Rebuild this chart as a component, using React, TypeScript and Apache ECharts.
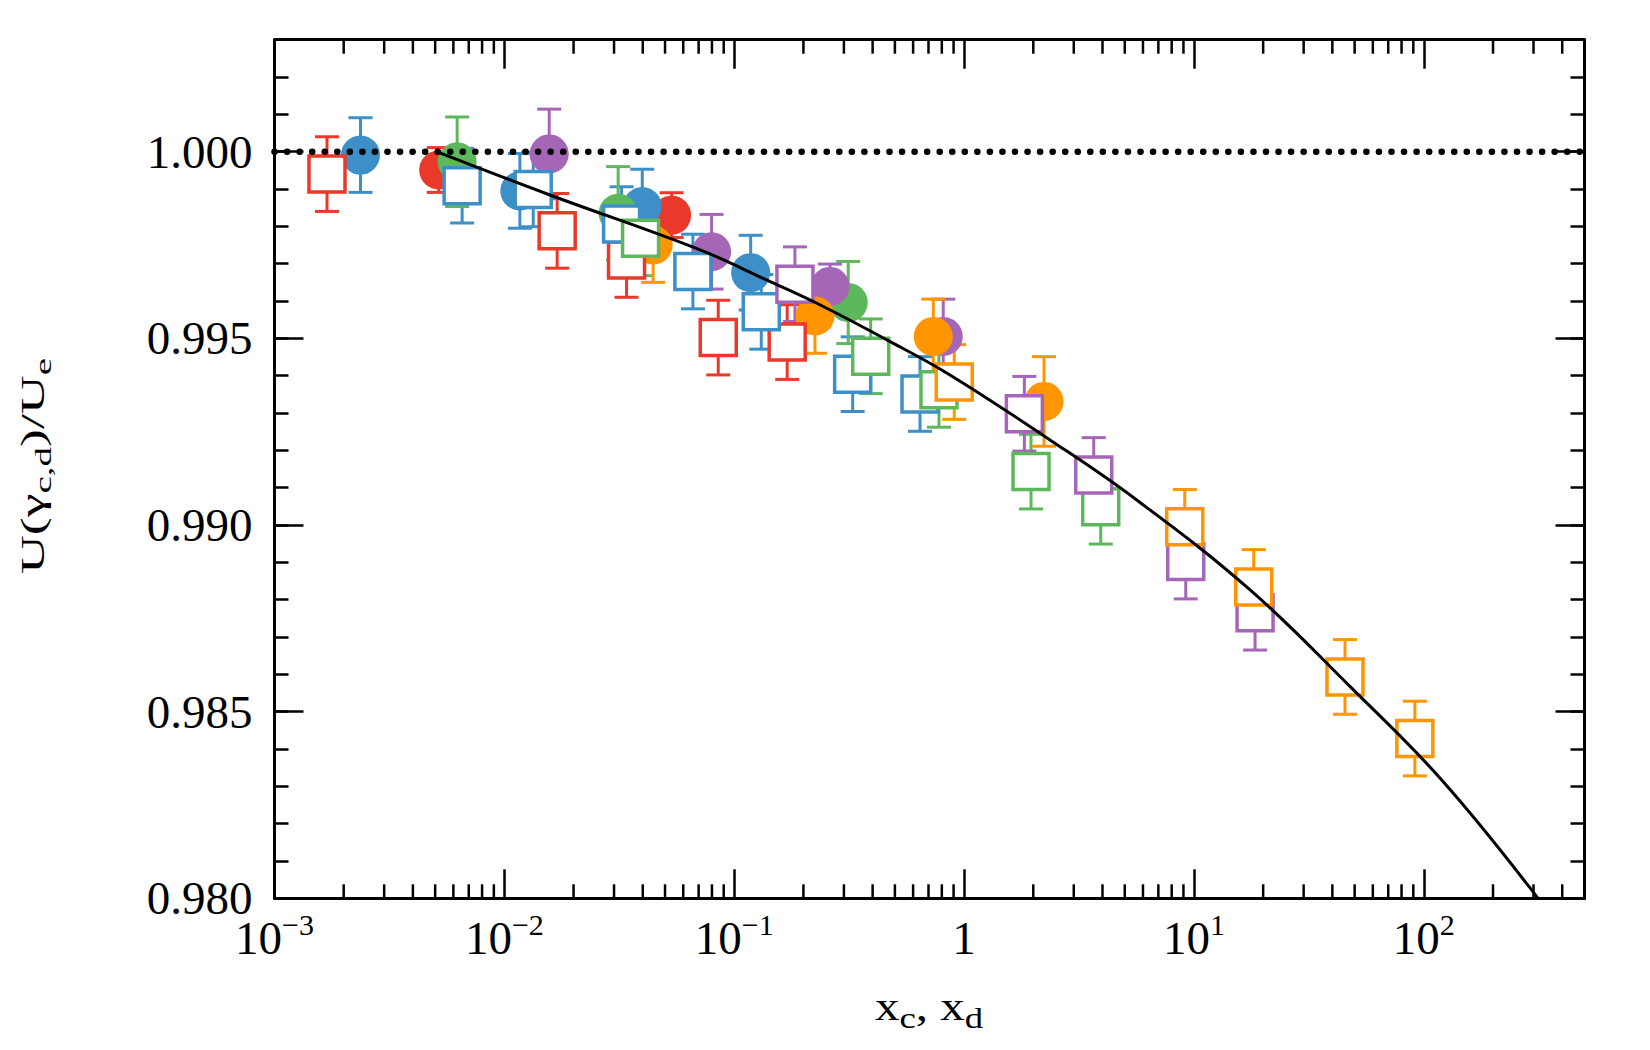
import React, { useEffect, useRef } from 'react';
import * as echarts from 'echarts';

const FONT = "'Liberation Serif', 'Times New Roman', Times, serif";

// Axis ranges
const X_MIN = 0.001;
const X_MAX = 500;
const Y_MIN = 0.98;
const Y_MAX = 1.003;

// Minor log ticks: 2..9 times each decade (only those inside the range are drawn)
const xMinorDecades = [0.001, 0.01, 0.1, 1, 10, 100];
const xMinorSteps = [2, 3, 4, 5, 6, 7, 8, 9];

// Measurements: [x, U/Ue, error]
const redCircles = [[0.00518, 0.99951, 0.0006], [0.0534, 0.9983, 0.0006]];
const redSquares = [[0.001692, 0.9994, 0.001], [0.01697, 0.99788, 0.001], [0.034, 0.9971, 0.001], [0.0852, 0.99502, 0.001], [0.17, 0.9949, 0.001]];
const blueCircles = [[0.002366, 0.99991, 0.001], [0.01168, 0.99895, 0.001], [0.0398, 0.99853, 0.001], [0.1179, 0.99676, 0.001]];
const blueSquares = [[0.00655, 0.99909, 0.001], [0.01335, 0.99899, 0.001], [0.03236, 0.99806, 0.001], [0.0661, 0.99679, 0.001], [0.1311, 0.99571, 0.001], [0.3275, 0.99404, 0.001], [0.643, 0.99351, 0.001]];
const greenCircles = [[0.00623, 0.99973, 0.0012], [0.03126, 0.99835, 0.00125], [0.3133, 0.99596, 0.0011]];
const greenSquares = [[0.03913, 0.99768, 0.001], [0.3923, 0.99452, 0.001], [0.7775, 0.99362, 0.001], [1.955, 0.99143, 0.001], [3.93, 0.99049, 0.001]];
const purpleCircles = [[0.01567, 0.99994, 0.0012], [0.0797, 0.99732, 0.001], [0.2609, 0.99639, 0.0006], [0.8115, 0.99505, 0.001]];
const purpleSquares = [[0.1837, 0.99645, 0.001], [1.829, 0.99298, 0.001], [3.664, 0.99134, 0.001], [9.21, 0.98902, 0.001], [18.44, 0.98765, 0.001]];
const orangeCircles = [[0.04439, 0.9975, 0.001], [0.2245, 0.9956, 0.001], [0.7345, 0.99505, 0.001], [2.227, 0.99331, 0.0012]];
const orangeSquares = [[0.906, 0.99383, 0.001], [9.12, 0.98995, 0.001], [18.2, 0.98834, 0.001], [45.4, 0.98593, 0.001], [91.4, 0.98428, 0.001]];

// Model curve
const curveX = [0.00507, 0.01578, 0.071, 0.1387, 0.2287, 0.4613, 0.868, 2.364, 5.635, 17.55, 47.8, 119.6, 314];
const curveY = [1.0, 0.99884, 0.99737, 0.99656, 0.99594, 0.99496, 0.99402, 0.99228, 0.99067, 0.98826, 0.98567, 0.98317, 0.98];

// Unity reference line
const unityX = [X_MIN, X_MAX];
const unityY = [1, 1];

const RED = '#e8392a';
const BLUE = '#3d8fc8';
const GREEN = '#5db85b';
const PURPLE = '#a666b8';
const ORANGE = '#ff9500';

const groups = [
  { color: RED, circles: redCircles, squares: redSquares },
  { color: BLUE, circles: blueCircles, squares: blueSquares },
  { color: GREEN, circles: greenCircles, squares: greenSquares },
  { color: PURPLE, circles: purpleCircles, squares: purpleSquares },
  { color: ORANGE, circles: orangeCircles, squares: orangeSquares },
];

const xTitle = '{m|x}{s|c}{m|, x}{s|d}';
const xTitleRich = {
  m: { fontSize: 40, lineHeight: 40, fontFamily: FONT, fill: '#000' },
  s: { fontSize: 30, height: 17, lineHeight: 17, verticalAlign: 'bottom', fontFamily: FONT, fill: '#000' },
};
const yTitle = '{m|U(\u03b3}{s|c,d}{m|)/U}{s|e}';
const yTitleRich = {
  m: { fontSize: 33, lineHeight: 33, fontFamily: FONT, fill: '#000' },
  s: { fontSize: 24, height: 13, lineHeight: 13, verticalAlign: 'bottom', fontFamily: FONT, fill: '#000' },
};

function textWidth(text: string, rich: any): number {
  const t = new (echarts.graphic as any).Text({ style: { text, rich, fontFamily: FONT, fontSize: 40 } });
  return t.getBoundingRect().width;
}

function errorBars(points: number[][], color: string) {
  return {
    type: 'custom',
    data: points,
    encode: { x: 0, y: 1 },
    z: 2,
    silent: true,
    renderItem: (_params: any, api: any) => {
      const x = api.value(0);
      const y = api.value(1);
      const e = api.value(2);
      const hi = api.coord([x, y + e]);
      const lo = api.coord([x, y - e]);
      const w = 12;
      const st = { stroke: color, lineWidth: 3 };
      return {
        type: 'group',
        children: [
          { type: 'line', shape: { x1: hi[0], y1: hi[1], x2: lo[0], y2: lo[1] }, style: st },
          { type: 'line', shape: { x1: hi[0] - w, y1: hi[1], x2: hi[0] + w, y2: hi[1] }, style: st },
          { type: 'line', shape: { x1: lo[0] - w, y1: lo[1], x2: lo[0] + w, y2: lo[1] }, style: st },
        ],
      };
    },
  };
}

export default function App() {
  const ref = useRef<HTMLDivElement>(null);

  useEffect(() => {
    if (!ref.current) return;
    const chart = echarts.init(ref.current, undefined, { renderer: 'svg' });

    const minorTicks: number[][] = [];
    xMinorDecades.forEach((d) => xMinorSteps.forEach((s) => {
      const v = d * s;
      if (v < X_MAX) minorTicks.push([v, Y_MIN]);
    }));

    const axisLineStyle = { color: '#000', width: 3 };
    const tickStyle = { color: '#000', width: 2.5 };

    const xLabel = (v: number) => {
      const e = Math.round(Math.log10(v));
      if (e === 0) return '{b|1}';
      return '{b|10}{s|' + (e < 0 ? '\u2212' + -e : String(e)) + '}';
    };

    const series: any[] = [];
    groups.forEach((g) => series.push(errorBars(g.circles.concat(g.squares), g.color)));
    groups.forEach((g) => series.push({
      type: 'scatter',
      data: g.circles.map((p) => [p[0], p[1]]),
      symbol: 'circle',
      symbolSize: 39,
      itemStyle: { color: g.color, opacity: 1 },
      z: 3,
      silent: true,
    }));
    groups.forEach((g) => series.push({
      type: 'scatter',
      data: g.squares.map((p) => [p[0], p[1]]),
      symbol: 'rect',
      symbolSize: 36,
      itemStyle: { color: '#ffffff', borderColor: g.color, borderWidth: 3.5, opacity: 1 },
      z: 4,
      silent: true,
    }));
    series.push({
      type: 'line',
      data: curveX.map((x, i) => [x, curveY[i]]),
      showSymbol: false,
      smooth: 0.4,
      lineStyle: { color: '#000', width: 3 },
      z: 5,
      silent: true,
    });
    series.push({
      type: 'line',
      data: unityX.map((x, i) => [x, unityY[i]]),
      showSymbol: false,
      lineStyle: { color: '#000', width: 6.5, type: [0.1, 12.45], cap: 'round' },
      z: 5,
      silent: true,
    });
    series.push({
      type: 'custom',
      data: minorTicks,
      encode: { x: 0, y: 1 },
      z: 6,
      silent: true,
      renderItem: (_params: any, api: any) => {
        const v = api.value(0);
        const b = api.coord([v, Y_MIN]);
        const t = api.coord([v, Y_MAX]);
        const st = { stroke: '#000', lineWidth: 2.5 };
        return {
          type: 'group',
          children: [
            { type: 'line', shape: { x1: b[0], y1: b[1], x2: b[0], y2: b[1] - 14 }, style: st },
            { type: 'line', shape: { x1: t[0], y1: t[1], x2: t[0], y2: t[1] + 14 }, style: st },
          ],
        };
      },
    });

    const yBase = { type: 'value', min: Y_MIN, max: Y_MAX, splitLine: { show: false } };

    const xScale = 108 / textWidth(xTitle, xTitleRich);
    const yScale = 216 / textWidth(yTitle, yTitleRich);

    chart.setOption({
      animation: false,
      backgroundColor: '#ffffff',
      grid: { left: 274.5, right: 65.5, top: 39.7, bottom: 151.7, containLabel: false },
      xAxis: [
        {
          type: 'log', logBase: 10, min: X_MIN, max: X_MAX, position: 'bottom',
          axisLine: { show: true, onZero: false, lineStyle: axisLineStyle },
          axisTick: { show: true, inside: true, length: 29, lineStyle: tickStyle },
          minorTick: { show: false },
          splitLine: { show: false },
          axisLabel: {
            show: true, margin: 16, showMaxLabel: false, formatter: xLabel,
            fontFamily: FONT, fontSize: 47, color: '#000',
            rich: {
              b: { fontSize: 47, lineHeight: 47, fontFamily: FONT, color: '#000' },
              s: { fontSize: 30, height: 20, lineHeight: 20, verticalAlign: 'top', fontFamily: FONT, color: '#000' },
            },
          },
        },
        {
          type: 'log', logBase: 10, min: X_MIN, max: X_MAX, position: 'top',
          axisLine: { show: true, onZero: false, lineStyle: axisLineStyle },
          axisTick: { show: true, inside: true, length: 29, lineStyle: tickStyle },
          axisLabel: { show: false },
          splitLine: { show: false },
        },
      ],
      yAxis: [
        {
          ...yBase, interval: 0.005, position: 'left',
          axisLine: { show: true, onZero: false, lineStyle: axisLineStyle },
          axisTick: { show: true, inside: true, length: 29, lineStyle: tickStyle },
          axisLabel: {
            show: true, margin: 22, showMaxLabel: false,
            formatter: (v: number) => v.toFixed(3),
            fontFamily: FONT, fontSize: 47, color: '#000',
          },
        },
        {
          ...yBase, interval: 0.001, position: 'left',
          axisLine: { show: false },
          axisTick: { show: true, inside: true, length: 14, lineStyle: tickStyle },
          axisLabel: { show: false },
        },
        {
          ...yBase, interval: 0.005, position: 'right',
          axisLine: { show: true, onZero: false, lineStyle: axisLineStyle },
          axisTick: { show: true, inside: true, length: 29, lineStyle: tickStyle },
          axisLabel: { show: false },
        },
        {
          ...yBase, interval: 0.001, position: 'right',
          axisLine: { show: false },
          axisTick: { show: true, inside: true, length: 14, lineStyle: tickStyle },
          axisLabel: { show: false },
        },
      ],
      graphic: [
        {
          type: 'text', x: 929, y: 1006.5, scaleX: xScale, silent: true,
          style: {
            text: xTitle, rich: xTitleRich, fontFamily: FONT, fontSize: 40, fill: '#000',
            align: 'center', verticalAlign: 'middle', textAlign: 'center', textVerticalAlign: 'middle',
          },
        },
        {
          type: 'text', x: 33, y: 466, rotation: Math.PI / 2, scaleX: yScale, silent: true,
          style: {
            text: yTitle, rich: yTitleRich, fontFamily: FONT, fontSize: 33, fill: '#000',
            align: 'center', verticalAlign: 'middle', textAlign: 'center', textVerticalAlign: 'middle',
          },
        },
      ],
      series,
    });

    return () => chart.dispose();
  }, []);

  return (
    <div
      ref={ref}
      style={{ position: 'absolute', left: 0, top: 0, width: 1650, height: 1050, background: '#fff' }}
    />
  );
}
